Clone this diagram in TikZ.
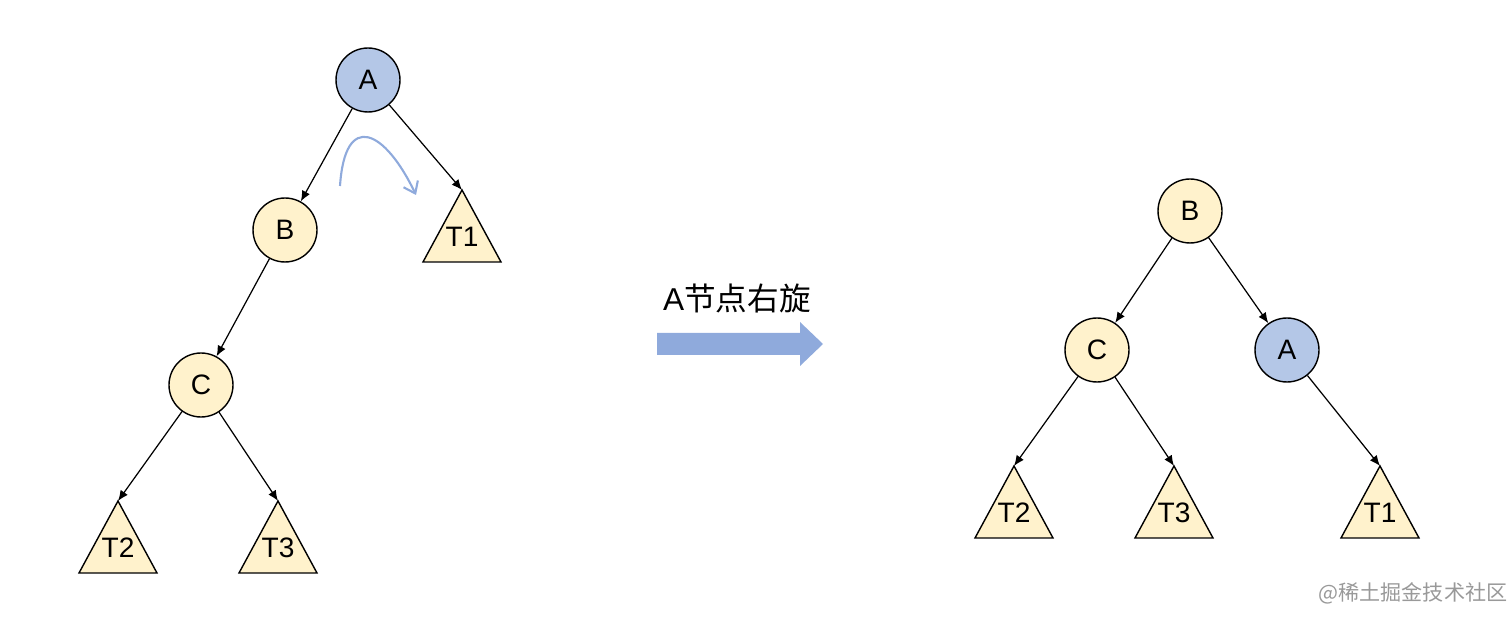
\documentclass[tikz,border=0pt]{standalone}
\usepackage{fontspec}
\setmainfont{Liberation Sans}
\newfontfamily\cjk{Noto Sans CJK SC}
\usetikzlibrary{arrows.meta}
\definecolor{nblue}{HTML}{B4C7E7}
\definecolor{nyel}{HTML}{FFF2CC}
\definecolor{abl}{HTML}{8FAADC}
\begin{document}
\begin{tikzpicture}[x=0.02cm,y=-0.02cm,
 cnode/.style={circle,draw,line width=0.8pt,minimum size=1.28cm,inner sep=0pt,font=\fontsize{16}{16}\selectfont},
 bnode/.style={cnode,fill=nblue},
 ynode/.style={cnode,fill=nyel},
 edge/.style={-{Latex[length=6pt,width=5pt]},line width=0.7pt},
 tri/.style={draw,line width=0.8pt,fill=nyel},
 tlab/.style={font=\fontsize{16}{16}\selectfont}]
\useasboundingbox (0,0) rectangle (1512,621);
% left tree
\node[bnode] (A) at (368,80) {A};
\node[ynode] (B) at (285,230) {B};
\node[ynode] (C) at (201,385) {C};
\newcommand\mytri[4]{% name, apex x, apex y, label
 \coordinate (#1) at (#2,#3);
 \draw[tri] (#1) -- ++(39,72) -- ++(-78,0) -- cycle;
 \node[tlab] (#1l) at (#2,#3+47) {#4};}
\mytri{lT1}{462}{190}{T1}
\mytri{lT2}{118}{501}{T2}
\mytri{lT3}{278}{501}{T3}
\draw[edge] (A) -- (B);
\draw[edge] (A) -- (lT1);
\draw[edge] (B) -- (C);
\draw[edge] (C) -- (lT2);
\draw[edge] (C) -- (lT3);
\coordinate (cs) at (340,186);
\coordinate (ce) at (416,195);
\draw[abl,line width=1.2pt,-{Straight Barb[length=6pt,width=9pt]}] (cs) .. controls (345,110) and (385,130) .. (ce);
% middle
\node[font=\fontsize{18}{18}\selectfont] (lab) at (737,298) {A\cjk 节点右旋};
\fill[abl] (657,333) -- (800,333) -- (800,322) -- (823,344) -- (800,366) -- (800,355) -- (657,355) -- cycle;
% right tree
\node[ynode] (rB) at (1190,211) {B};
\node[ynode] (rC) at (1097,350) {C};
\node[bnode] (rA) at (1287,350) {A};
\mytri{rT2}{1014}{466}{T2}
\mytri{rT3}{1174}{466}{T3}
\mytri{rT1}{1380}{466}{T1}
\draw[edge] (rB) -- (rC);
\draw[edge] (rB) -- (rA);
\draw[edge] (rC) -- (rT2);
\draw[edge] (rC) -- (rT3);
\draw[edge] (rA) -- (rT1);
\node[text=gray!80,font=\cjk\fontsize{12}{12}\selectfont] (wm) at (1413,593) {@稀土掘金技术社区};
\end{tikzpicture}
\end{document}
